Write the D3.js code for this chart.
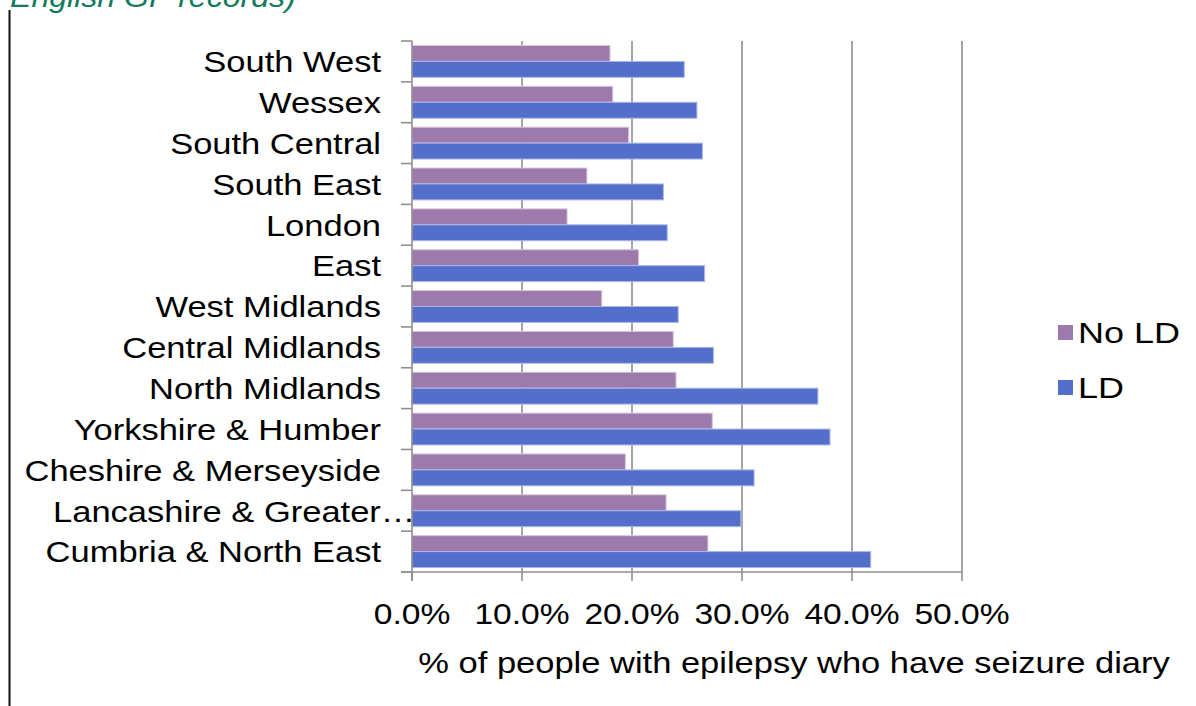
<!DOCTYPE html>
<html>
<head>
<meta charset="utf-8">
<script src="https://cdn.jsdelivr.net/npm/d3@7/dist/d3.min.js"></script>
<style>
  html, body { margin: 0; padding: 0; background: #fff; }
  svg { display: block; }
  text { font-family: "Liberation Sans", Arial, sans-serif; fill: #000; }
</style>
</head>
<body>
<svg id="chart" width="1196" height="706"></svg>
<script>
// Regions, top to bottom
const categories = [
  "South West", "Wessex", "South Central", "South East", "London", "East",
  "West Midlands", "Central Midlands", "North Midlands", "Yorkshire & Humber",
  "Cheshire & Merseyside", "Lancashire & Greater Manchester", "Cumbria & North East"
];
const seriesNames = ["No LD", "LD"];
// Share of people with epilepsy who have a seizure diary (%)
const noLD = [18.0, 18.25, 19.7, 15.9, 14.1, 20.6, 17.25, 23.75, 24.0, 27.3, 19.4, 23.1, 26.9];
const withLD = [24.75, 25.9, 26.4, 22.85, 23.2, 26.6, 24.2, 27.4, 36.9, 38.0, 31.1, 29.9, 41.7];
const tickValues = [0, 10, 20, 30, 40, 50];
const colors = { "No LD": "#9e79ab", "LD": "#546fca" };
const edgeColors = { "No LD": "#d6c6de", "LD": "#a9b6ec" };

const svg = d3.select("#chart");
const FS = "30px";   // base font size
const SX = 1.15;     // horizontal stretch of the chart's lettering

// Heading fragment and frame rule at the left
svg.append("text")
  .attr("transform", "translate(10,7) scale(1.07,1)")
  .style("font-size", "30px").style("font-style", "italic")
  .style("fill", "#137a5c")
  .text("English GP records)");
svg.append("line")
  .attr("x1", 9.5).attr("x2", 9.5).attr("y1", 10).attr("y2", 706)
  .attr("stroke", "#111").attr("stroke-width", 2);

const x = d3.scaleLinear().domain([0, 50]).range([412, 962]);
const y0 = d3.scaleBand().domain(categories).range([41, 572])
  .paddingInner(0.22).paddingOuter(0.11);
const y1 = d3.scaleBand().domain(seriesNames).range([0, y0.bandwidth()]);

const plotTop = 41, plotBottom = 572;

// Vertical gridlines
svg.append("g").selectAll("line")
  .data(tickValues.filter(d => d > 0))
  .join("line")
  .attr("x1", d => x(d)).attr("x2", d => x(d))
  .attr("y1", plotTop).attr("y2", plotBottom)
  .attr("stroke", "#8f8f8f").attr("stroke-width", 1.6);

// Bars
const rows = categories.map((c, i) => ({ c, vals: [
  { s: "No LD", v: noLD[i] }, { s: "LD", v: withLD[i] }
]}));
const groups = svg.append("g").selectAll("g")
  .data(rows).join("g")
  .attr("transform", d => `translate(0,${y0(d.c)})`);
groups.selectAll("rect")
  .data(d => d.vals).join("rect")
  .attr("x", x(0))
  .attr("y", d => y1(d.s))
  .attr("width", d => x(d.v) - x(0))
  .attr("height", y1.bandwidth())
  .attr("fill", d => colors[d.s])
  .attr("stroke", d => edgeColors[d.s])
  .attr("stroke-width", 1);

// Category axis
const step = y0.step();
const yAxis = svg.append("g");
yAxis.append("line")
  .attr("x1", x(0)).attr("x2", x(0))
  .attr("y1", plotTop).attr("y2", plotBottom + 9)
  .attr("stroke", "#8f8f8f").attr("stroke-width", 1.6);
yAxis.selectAll("line.tick")
  .data(d3.range(categories.length + 1))
  .join("line").attr("class", "tick")
  .attr("x1", x(0) - 11).attr("x2", x(0))
  .attr("y1", i => plotTop + i * step).attr("y2", i => plotTop + i * step)
  .attr("stroke", "#8f8f8f").attr("stroke-width", 1.6);

// Labels right-aligned at the axis; long names are cut at a word and
// the ellipsis is allowed to run past the label edge.
const labelRight = 381, labelMax = 375;
yAxis.selectAll("text")
  .data(categories).join("text")
  .style("font-size", FS)
  .attr("dy", "0.36em")
  .each(function(d) {
    const t = d3.select(this);
    const cy = y0(d) + y0.bandwidth() / 2;
    t.text(d);
    let w = this.getComputedTextLength() * SX;
    if (w <= labelMax) {
      t.attr("text-anchor", "end")
       .attr("transform", `translate(${labelRight},${cy}) scale(${SX},1)`);
      return;
    }
    const words = d.split(" ");
    let prefix = words[0];
    for (let k = 1; k < words.length; k++) {
      const cand = words.slice(0, k + 1).join(" ");
      t.text(cand);
      if (this.getComputedTextLength() * SX > labelMax) break;
      prefix = cand;
    }
    t.text(prefix);
    w = this.getComputedTextLength() * SX;
    t.text(prefix + "\u2026")
     .attr("text-anchor", "start")
     .attr("transform", `translate(${labelRight - w},${cy}) scale(${SX},1)`);
  });

// Value axis
const xAxis = svg.append("g");
xAxis.append("line")
  .attr("x1", x(0) - 11).attr("x2", x(50))
  .attr("y1", plotBottom).attr("y2", plotBottom)
  .attr("stroke", "#8f8f8f").attr("stroke-width", 1.6);
xAxis.selectAll("line.tick")
  .data(tickValues).join("line").attr("class", "tick")
  .attr("x1", d => x(d)).attr("x2", d => x(d))
  .attr("y1", plotBottom).attr("y2", plotBottom + 9)
  .attr("stroke", "#8f8f8f").attr("stroke-width", 1.6);
xAxis.selectAll("text")
  .data(tickValues).join("text")
  .attr("transform", d => `translate(${x(d)},624) scale(1.12,1)`)
  .attr("text-anchor", "middle")
  .style("font-size", FS)
  .text(d => d.toFixed(1) + "%");

svg.append("text")
  .attr("transform", `translate(794,673) scale(${SX},1)`)
  .attr("text-anchor", "middle")
  .style("font-size", FS)
  .text("% of people with epilepsy who have seizure diary");

// Legend
const legend = svg.append("g").selectAll("g")
  .data(seriesNames).join("g")
  .attr("transform", (d, i) => `translate(1058,${325 + i * 55})`);
legend.append("rect")
  .attr("width", 15).attr("height", 15)
  .attr("fill", d => colors[d]);
legend.append("text")
  .attr("transform", "translate(20,7.5) scale(1.2,1)")
  .attr("dy", "0.36em")
  .style("font-size", FS)
  .text(d => d);
</script>
</body>
</html>
